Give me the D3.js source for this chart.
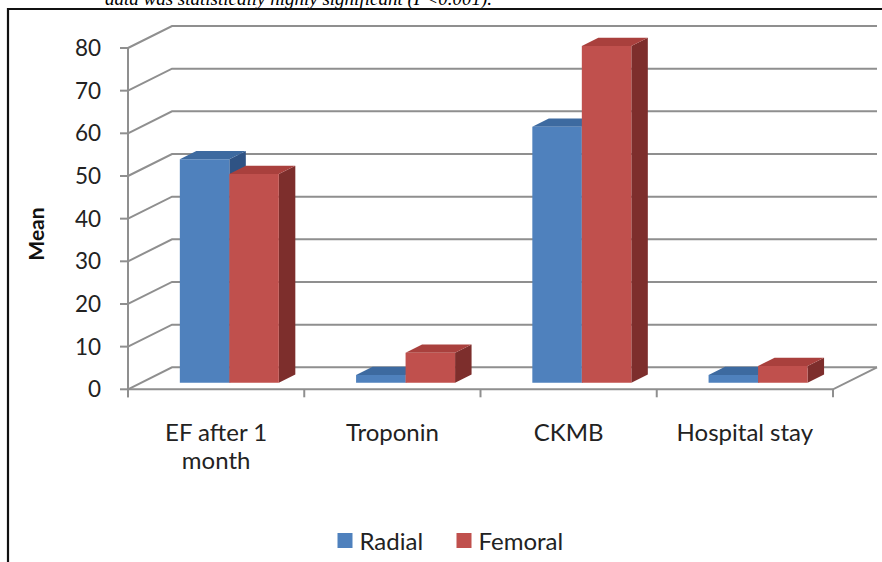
<!DOCTYPE html>
<html>
<head>
<meta charset="utf-8">
<script src="https://cdn.jsdelivr.net/npm/d3@7"></script>
<style>
  html, body { margin: 0; padding: 0; background: #fff; }
  svg { display: block; }
  text { font-family: Lato, "Open Sans", sans-serif; fill: #222; }
</style>
</head>
<body>
<svg id="chart" width="882" height="562"></svg>
<script>
// Mean values per outcome for the two access routes
const categories = ["EF after 1 month", "Troponin", "CKMB", "Hospital stay"];
const categoryLines = [["EF after 1", "month"], ["Troponin"], ["CKMB"], ["Hospital stay"]];
const seriesNames = ["Radial", "Femoral"];
const radial = [52.4, 1.8, 60.0, 1.8];
const femoral = [48.9, 7.0, 78.9, 3.9];
const yTicks = [0, 10, 20, 30, 40, 50, 60, 70, 80];

const seriesValues = [radial, femoral];
const faceColors = [
  { front: "#4f81bd", top: "#3d6aa0", side: "#2f5384" },
  { front: "#c0504d", top: "#a9403d", side: "#7d2e2c" }
];

const svg = d3.select("#chart");

// Caption line running above the figure frame
svg.append("text")
  .attr("x", 492).attr("y", 5)
  .attr("text-anchor", "end")
  .style("font-family", "'Liberation Serif', serif")
  .style("font-style", "italic")
  .style("font-size", "19px")
  .style("fill", "#000")
  .text("data was statistically highly significant (P<0.001).");

// Figure frame
svg.append("path")
  .attr("d", "M8,570 V9 H890")
  .attr("fill", "none")
  .attr("stroke", "#111")
  .attr("stroke-width", 2.2);

// Oblique projection: depth 0 = front plane, depth 1 = back wall
const depthDX = 44, depthDY = -22;
const y = d3.scaleLinear().domain([0, 80]).range([389.3, 48]);
const x = d3.scaleBand().domain(categories).range([128, 833]).paddingInner(0).paddingOuter(0);
const proj = (px, v, d) => [px + d * depthDX, y(v) + d * depthDY];

const gridColor = "#8f8f8f";
const grid = svg.append("g").attr("fill", "none").attr("stroke", gridColor).attr("stroke-width", 2);

// Side wall diagonals and back wall gridlines
yTicks.forEach(t => {
  const a = proj(x.range()[0], t, 0);
  const b = proj(x.range()[0], t, 1);
  const c = proj(x.range()[1], t, 1);
  grid.append("path").attr("d", `M${a}L${b}L${c}`);
});

// Floor: front edge and right edge
{
  const a = proj(x.range()[0], 0, 0);
  const b = proj(x.range()[1], 0, 0);
  const c = proj(x.range()[1], 0, 1);
  grid.append("path").attr("d", `M${a}L${b}L${c}`);
}

// Value axis line and tick marks
const axisG = svg.append("g");
axisG.append("line")
  .attr("x1", 128).attr("x2", 128)
  .attr("y1", y(80)).attr("y2", y(0) + 8)
  .attr("stroke", gridColor).attr("stroke-width", 2);
yTicks.forEach(t => {
  axisG.append("line")
    .attr("x1", 120).attr("x2", 128)
    .attr("y1", y(t)).attr("y2", y(t))
    .attr("stroke", gridColor).attr("stroke-width", 2);
  axisG.append("text")
    .attr("x", 101).attr("y", y(t))
    .attr("dy", "0.36em")
    .attr("text-anchor", "end")
    .style("font-size", "22.5px")
    .text(t);
});

// Category tick marks at band boundaries
const bounds = categories.map(c => x(c)).concat([x.range()[1]]);
bounds.forEach(bx => {
  axisG.append("line")
    .attr("x1", bx).attr("x2", bx)
    .attr("y1", y(0)).attr("y2", y(0) + 8)
    .attr("stroke", gridColor).attr("stroke-width", 2);
});

// Category labels
categories.forEach((c, i) => {
  const tx = svg.append("text")
    .attr("x", x(c) + x.bandwidth() / 2)
    .attr("y", 441)
    .attr("text-anchor", "middle")
    .style("font-size", "24px");
  categoryLines[i].forEach((ln, j) => {
    tx.append("tspan")
      .attr("x", x(c) + x.bandwidth() / 2)
      .attr("dy", j === 0 ? 0 : 28)
      .text(ln);
  });
});

// Axis title
svg.append("text")
  .attr("transform", "translate(44,234) rotate(-90)")
  .attr("text-anchor", "middle")
  .style("font-size", "21px")
  .style("font-weight", "bold")
  .style("fill", "#111")
  .text("Mean");

// 3D bars: front face, top face, right side
const barW = 49.5;
const barFront = 0.3, barBack = 0.675;
const xs = d3.scaleBand().domain(seriesNames).range([-barW, barW]);
const bars = svg.append("g");
categories.forEach((c, ci) => {
  const cx = x(c) + x.bandwidth() / 2;
  seriesNames.forEach((s, si) => {
    const v = seriesValues[si][ci];
    const x0 = cx + xs(s), x1 = x0 + xs.bandwidth();
    const col = faceColors[si];
    const fBL = proj(x0, 0, barFront), fBR = proj(x1, 0, barFront);
    const fTL = proj(x0, v, barFront), fTR = proj(x1, v, barFront);
    const bTL = proj(x0, v, barBack), bTR = proj(x1, v, barBack);
    const bBR = proj(x1, 0, barBack);
    const g = bars.append("g");
    g.append("path").attr("d", `M${fTR}L${bTR}L${bBR}L${fBR}Z`).attr("fill", col.side);
    g.append("path").attr("d", `M${fTL}L${bTL}L${bTR}L${fTR}Z`).attr("fill", col.top);
    g.append("path").attr("d", `M${fBL}L${fTL}L${fTR}L${fBR}Z`).attr("fill", col.front);
  });
});

// Legend
const legend = svg.append("g");
const legendX = [337.5, 456.5];
seriesNames.forEach((s, i) => {
  legend.append("rect")
    .attr("x", legendX[i]).attr("y", 533)
    .attr("width", 15).attr("height", 15)
    .attr("fill", faceColors[i].front);
  legend.append("text")
    .attr("x", legendX[i] + 22).attr("y", 550)
    .style("font-size", "24px")
    .text(s);
});
</script>
</body>
</html>
